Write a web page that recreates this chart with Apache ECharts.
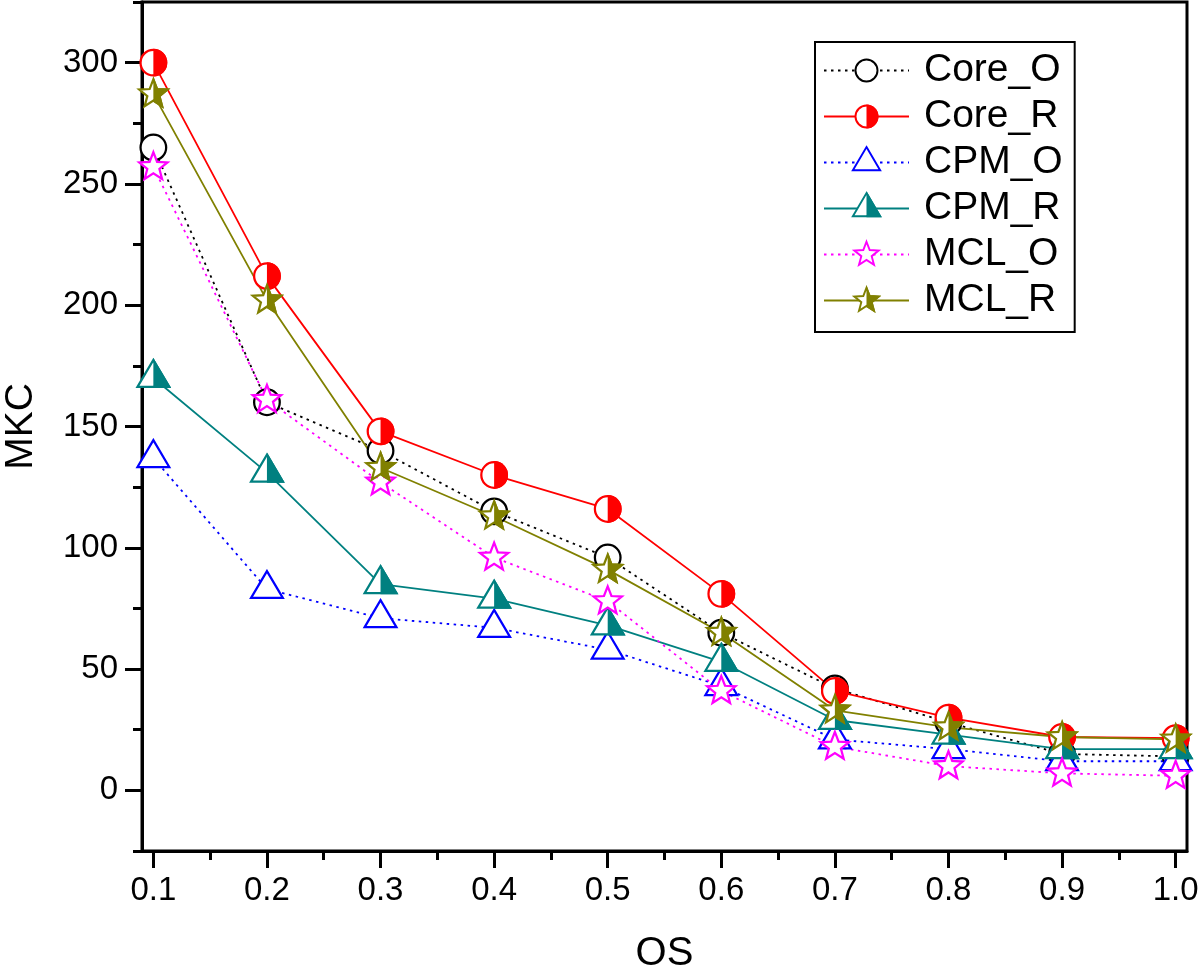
<!DOCTYPE html>
<html>
<head>
<meta charset="utf-8">
<title>MKC vs OS</title>
<script src="https://cdn.jsdelivr.net/npm/echarts@6/dist/echarts.min.js"></script>
<style>
  html, body { margin: 0; padding: 0; background: #fff; }
  #chart { width: 1200px; height: 972px; }
</style>
</head>
<body>
<div id="chart"></div>
<script>
// data
const osValues = [0.1, 0.2, 0.3, 0.4, 0.5, 0.6, 0.7, 0.8, 0.9, 1.0]
const coreO = [265, 160, 140, 115, 96, 65, 42, 28, 15, 14]
const coreR = [300, 212, 148, 130, 116, 81, 41, 30, 22, 21.5]
const cpmO = [137, 83, 71, 67, 58, 43, 21, 17, 12, 12]
const cpmR = [170, 131, 85, 79, 68, 53, 29, 23, 17, 17]
const mclO = [257, 161, 127, 96, 78, 41, 18, 10, 7, 6]
const mclR = [287, 202, 133, 113, 91, 65, 33, 26, 22, 21]
const seriesNames = ["Core_O", "Core_R", "CPM_O", "CPM_R", "MCL_O", "MCL_R"]

// tick labels
const xTicks = [0.1, 0.2, 0.3, 0.4, 0.5, 0.6, 0.7, 0.8, 0.9, 1.0]
const xMinorTicks = [0.15, 0.25, 0.35, 0.45, 0.55, 0.65, 0.75, 0.85, 0.95]
const yTicks = [0, 50, 100, 150, 200, 250, 300]
const yMinorTicks = [-25, 25, 75, 125, 175, 225, 275, 325]

const FONT = "'Liberation Sans', Arial, Helvetica, sans-serif"

// marker pictures (open / half filled), 40x40 box
function svgUri(body) {
  const svg = "<svg xmlns='http://www.w3.org/2000/svg' width='40' height='40' viewBox='0 0 40 40'>" + body + "</svg>"
  return "image://data:image/svg+xml;charset=utf-8," + encodeURIComponent(svg)
}
const halfClip = "<defs><clipPath id='h'><rect x='20' y='0' width='20' height='40'/></clipPath></defs>"

function circleMarker(color, half) {
  let s = halfClip + "<circle cx='20' cy='20' r='12.5' fill='white' stroke='" + color + "' stroke-width='2.2'/>"
  if (half) s += "<circle cx='20' cy='20' r='13.6' fill='" + color + "' clip-path='url(#h)'/>"
  return svgUri(s)
}
function triangleMarker(color, half) {
  const pts = "20,2.5 35.5,28.75 4.5,28.75"
  let s = halfClip + "<polygon points='" + pts + "' fill='white' stroke='" + color + "' stroke-width='2.2' stroke-linejoin='miter'/>"
  if (half) s += "<polygon points='" + pts + "' fill='" + color + "' stroke='" + color + "' stroke-width='2.2' clip-path='url(#h)'/>"
  return svgUri(s)
}
function starPoints(R, r) {
  const p = []
  for (let i = 0; i < 10; i++) {
    const a = -Math.PI / 2 + i * Math.PI / 5
    const rad = i % 2 === 0 ? R : r
    p.push((20 + rad * Math.cos(a)).toFixed(2) + "," + (20 + rad * Math.sin(a)).toFixed(2))
  }
  return p.join(" ")
}
function starMarker(color, half) {
  const pts = starPoints(14.5, 6.2)
  let s = halfClip + "<polygon points='" + pts + "' fill='white' stroke='" + color + "' stroke-width='2.2'/>"
  if (half) s += "<polygon points='" + pts + "' fill='" + color + "' stroke='" + color + "' stroke-width='2.2' clip-path='url(#h)'/>"
  return svgUri(s)
}

const DOT = [2.5, 4.5]
const styles = [
  { color: "#000000", type: DOT, symbol: circleMarker("#000000", false) },
  { color: "#ff0000", type: "solid", symbol: circleMarker("#ff0000", true) },
  { color: "#0000ff", type: DOT, symbol: triangleMarker("#0000ff", false) },
  { color: "#008080", type: "solid", symbol: triangleMarker("#008080", true) },
  { color: "#ff00ff", type: DOT, symbol: starMarker("#ff00ff", false) },
  { color: "#808000", type: "solid", symbol: starMarker("#808000", true) },
]
const values = [coreO, coreR, cpmO, cpmR, mclO, mclR]

const series = seriesNames.map((name, k) => ({
  name: name,
  type: "line",
  xAxisIndex: 0,
  yAxisIndex: 0,
  data: osValues.map((x, i) => [x, values[k][i]]),
  symbol: styles[k].symbol,
  symbolSize: 41,
  showSymbol: true,
  lineStyle: { color: styles[k].color, width: 1.8, type: styles[k].type },
  itemStyle: { color: styles[k].color },
  emphasis: { disabled: true },
}))

const axisText = { color: "#000", fontFamily: FONT, fontSize: 33 }

const myChart = echarts.init(document.getElementById("chart"), null, { renderer: "canvas" })
myChart.setOption({
  animation: false,
  backgroundColor: "#fff",
  grid: {
    left: 142, right: 13, top: 2, bottom: 121,
    outerBoundsMode: "none",
    containLabel: false,
    show: true, borderColor: "#000", borderWidth: 3, backgroundColor: "transparent",
  },
  legend: {
    data: seriesNames,
    orient: "vertical",
    left: 815,
    top: 42,
    padding: [9, 12, 12, 8],
    itemWidth: 85,
    itemHeight: 44,
    itemGap: 7,
    borderColor: "#000",
    borderWidth: 2,
    backgroundColor: "#fff",
    selectedMode: false,
    textStyle: { color: "#000", fontFamily: FONT, fontSize: 39, padding: [0, 0, 0, 10] },
  },
  xAxis: [
    {
      type: "value",
      min: 0.09,
      max: 1.01,
      name: "OS",
      nameLocation: "middle",
      nameGap: 83,
      nameTextStyle: { color: "#000", fontFamily: FONT, fontSize: 40 },
      axisLine: { show: true, onZero: false, lineStyle: { color: "#000", width: 3 } },
      axisTick: { show: true, customValues: xTicks, length: 17, lineStyle: { color: "#000", width: 3 } },
      axisLabel: Object.assign({ customValues: xTicks, margin: 23, formatter: v => v.toFixed(1) }, axisText),
      splitLine: { show: false },
    },
    {
      type: "value",
      min: 0.09,
      max: 1.01,
      position: "bottom",
      axisLine: { show: false, onZero: false },
      axisTick: { show: true, customValues: xMinorTicks, length: 9, lineStyle: { color: "#000", width: 3 } },
      axisLabel: { show: false },
      splitLine: { show: false },
    },
  ],
  yAxis: [
    {
      type: "value",
      min: -25,
      max: 325,
      name: "MKC",
      nameLocation: "middle",
      nameGap: 101,
      nameTextStyle: { color: "#000", fontFamily: FONT, fontSize: 39 },
      axisLine: { show: true, onZero: false, lineStyle: { color: "#000", width: 3 } },
      axisTick: { show: true, customValues: yTicks, length: 17, lineStyle: { color: "#000", width: 3 } },
      axisLabel: Object.assign({ customValues: yTicks, margin: 24 }, axisText),
      splitLine: { show: false },
    },
    {
      type: "value",
      min: -25,
      max: 325,
      position: "left",
      axisLine: { show: false, onZero: false },
      axisTick: { show: true, customValues: yMinorTicks, length: 9, lineStyle: { color: "#000", width: 3 } },
      axisLabel: { show: false },
      splitLine: { show: false },
    },
  ],
  series: series,
})
</script>
</body>
</html>
